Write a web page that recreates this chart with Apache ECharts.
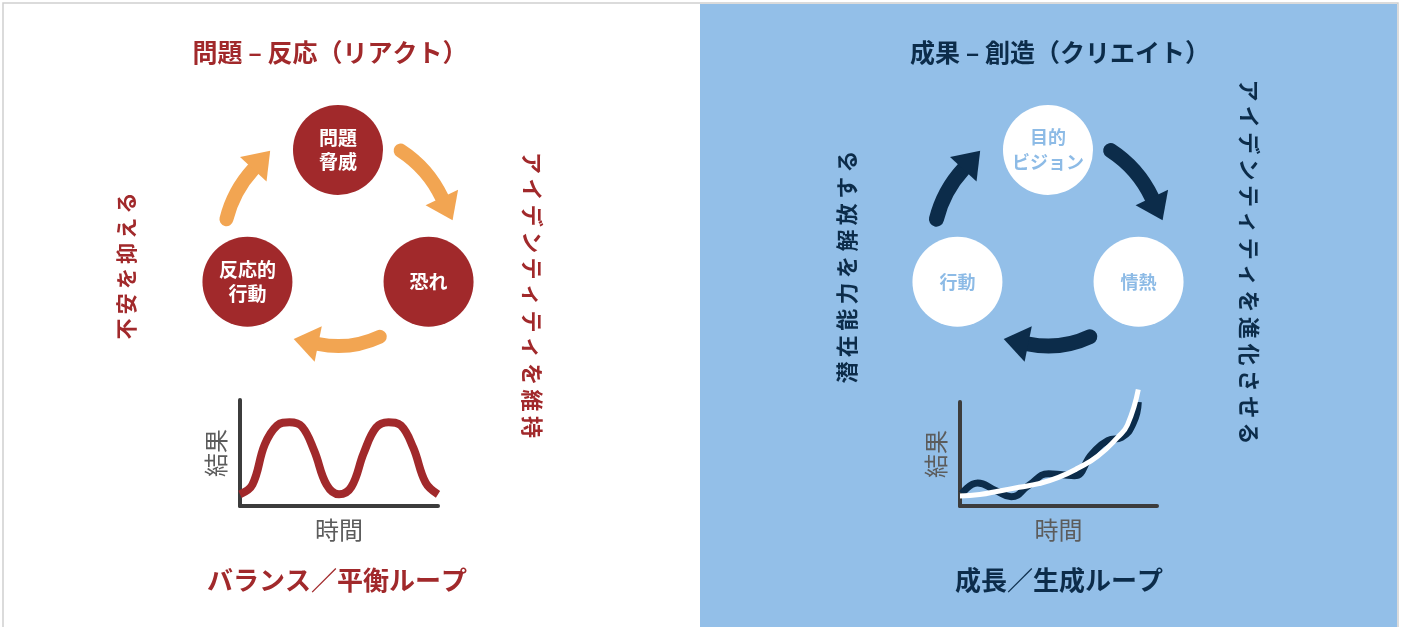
<!DOCTYPE html>
<html>
<head>
<meta charset="utf-8">
<title>リアクト / クリエイト</title>
<script src="https://cdn.jsdelivr.net/npm/echarts@6/dist/echarts.min.js"></script>
<style>
html, body { margin: 0; padding: 0; background: #fff; }
#main { width: 1403px; height: 627px; }
</style>
</head>
<body>
<div id="main"></div>
<script>
/* データ */
var reactNodes = ['問題\n脅威', '恐れ', '反応的\n行動'];
var createNodes = ['目的\nビジョン', '情熱', '行動'];
var nodeAngles = [90, -21, 201];          // 円周上の角度（度）
var arrowFrom = [57, -65, 166];           // 矢印の始点角度
var arrowTo = [13, -116, 125];            // 矢印の先端角度

// バランス／平衡ループ（結果 × 時間）
var balanceX = [0, 0.25, 0.5, 0.75, 1, 1.25, 1.5, 1.75, 2, 2.25, 2.5, 2.75, 3, 3.25, 3.5, 3.75, 4];
var balanceY = [0.11, 0.2, 0.58, 0.76, 0.79, 0.75, 0.52, 0.2, 0.11, 0.18, 0.5, 0.74, 0.79, 0.76, 0.55, 0.22, 0.11];

// 成長／生成ループ：トレンド（白）と実際（紺）
var trendX = [0, 1, 2, 3, 4, 5, 6, 7, 8, 8.5, 9.05];
var trendY = [0.096, 0.11, 0.145, 0.18, 0.215, 0.275, 0.365, 0.48, 0.66, 0.78, 1.12];
var waveX = [0.1, 0.9, 1.8, 2.6, 3.5, 4.5, 5.2, 5.8, 6.7, 7.5, 8.2, 8.8, 9.05];
var waveY = [0.12, 0.22, 0.15, 0.09, 0.2, 0.31, 0.3, 0.29, 0.5, 0.63, 0.66, 0.8, 1.0];

var RED = '#a1292b', ORANGE = '#f2a552', NAVY = '#0c2c4a', BLUE = '#93bfe8',
    AXIS = '#3c3c3c', GREY = '#5c5c5c';
var FONT = '"Noto Sans CJK JP", "Noto Sans CJK SC", sans-serif';
var NODE_R = 97;
var arrowRadius = [115, 99, 115];

var myChart = echarts.init(document.getElementById('main'));

function spaced(s) {
	return s.split('').join('\u2009');
}

function nodeData(names) {
	return names.map(function (n, i) {
		var a = nodeAngles[i] * Math.PI / 180;
		return { name: n, value: [NODE_R * Math.cos(a), NODE_R * Math.sin(a)] };
	});
}

function arrowData() {
	return arrowFrom.map(function (a, i) {
		return [a, arrowTo[i], arrowRadius[i]];
	});
}

/* 円弧の矢印（時計回り） */
function arrowItem(color, width) {
	return function (params, api) {
		var d = Math.PI / 180;
		var a0 = api.value(0), a1 = api.value(1), r = api.value(2);
		var c = api.coord([0, 0]);
		var rp = api.size([r, 0])[0];
		var head = 25, hw = 18;
		var baseA = a1 + head / rp / d;
		var t = baseA * d;
		var bx = c[0] + rp * Math.cos(t), by = c[1] - rp * Math.sin(t);
		var tx = Math.sin(t), ty = Math.cos(t);
		var nx = Math.cos(t), ny = -Math.sin(t);
		return {
			type: 'group',
			children: [{
				type: 'arc',
				shape: { cx: c[0], cy: c[1], r: rp, startAngle: -a0 * d, endAngle: -baseA * d, clockwise: true },
				style: { fill: null, stroke: color, lineWidth: width, lineCap: 'round' }
			}, {
				type: 'polygon',
				shape: { points: [[bx + nx * hw, by + ny * hw], [bx - nx * hw, by - ny * hw], [bx + tx * head, by + ty * head]] },
				style: { fill: color }
			}]
		};
	};
}

function pairs(xs, ys) {
	return xs.map(function (x, i) { return [x, ys[i]]; });
}

function hiddenAxis(idx, min, max) {
	return { gridIndex: idx, type: 'value', min: min, max: max, show: false };
}

function chartAxis(idx, min, max, name, isY) {
	return {
		gridIndex: idx, type: 'value', min: min, max: max,
		name: name, nameLocation: 'middle', nameGap: isY ? 12 : 12,
		nameRotate: isY ? 90 : 0,
		nameTextStyle: { color: GREY, fontSize: 24, fontFamily: FONT },
		axisLine: { show: true, lineStyle: { color: AXIS, width: 4 } },
		axisTick: { show: false }, axisLabel: { show: false }, splitLine: { show: false }
	};
}

function text(str, x, y, color, size, rot) {
	return {
		type: 'text', x: x, y: y, rotation: rot || 0, z: 10,
		style: {
			text: str, fill: color, align: 'center', verticalAlign: 'middle',
			font: 'bold ' + size + 'px ' + FONT
		}
	};
}

var option = {
	backgroundColor: '#fff',
	animation: false,
	graphic: [
		{ type: 'rect', shape: { x: 3, y: 3, width: 1395, height: 630 }, style: { fill: '#fff', stroke: '#cfcfcf', lineWidth: 1.5 }, z: -10 },
		{ type: 'rect', shape: { x: 700, y: 4, width: 697, height: 625 }, style: { fill: BLUE }, z: -9 },
		text('問題 – 反応（リアクト）', 330, 52, RED, 25),
		text('成果 – 創造（クリエイト）', 1060, 52, NAVY, 25),
		text('バランス／平衡ループ', 337, 580, RED, 26),
		text('成長／生成ループ', 1059, 580, NAVY, 26),
		text(spaced('不安を抑える'), 126, 266, RED, 21, Math.PI / 2),
		text(spaced('アイデンティティを維持'), 532, 295, RED, 22, -Math.PI / 2),
		text(spaced('潜在能力を解放する'), 847, 267, NAVY, 22, Math.PI / 2),
		text(spaced('アイデンティティを進化させる'), 1249, 262, NAVY, 22, -Math.PI / 2)
	],
	grid: [
		{ left: 178, top: 87, width: 320, height: 320 },
		{ left: 888, top: 87, width: 320, height: 320 },
		{ left: 240, top: 400, width: 198, height: 106 },
		{ left: 960, top: 402, width: 197, height: 104 }
	],
	xAxis: [
		hiddenAxis(0, -160, 160),
		hiddenAxis(1, -160, 160),
		chartAxis(2, 0, 4, '時間', false),
		chartAxis(3, 0, 10, '時間', false)
	],
	yAxis: [
		hiddenAxis(0, -160, 160),
		hiddenAxis(1, -160, 160),
		chartAxis(2, 0, 1, '結果', true),
		chartAxis(3, 0, 1, '結果', true)
	],
	series: [{
		type: 'custom', xAxisIndex: 0, yAxisIndex: 0,
		renderItem: arrowItem(ORANGE, 14), data: arrowData(), silent: true
	}, {
		type: 'scatter', xAxisIndex: 0, yAxisIndex: 0,
		symbolSize: 90, itemStyle: { color: RED, opacity: 1 },
		label: { show: true, position: 'inside', formatter: '{b}', color: '#fff', fontSize: 19, fontWeight: 'bold', lineHeight: 24, fontFamily: FONT },
		data: nodeData(reactNodes)
	}, {
		type: 'custom', xAxisIndex: 1, yAxisIndex: 1,
		renderItem: arrowItem(NAVY, 15), data: arrowData(), silent: true
	}, {
		type: 'scatter', xAxisIndex: 1, yAxisIndex: 1,
		symbolSize: 90, itemStyle: { color: '#fff', opacity: 1 },
		label: { show: true, position: 'inside', formatter: '{b}', color: '#8dbbe6', fontSize: 18, fontWeight: 'bold', lineHeight: 25, fontFamily: FONT },
		data: nodeData(createNodes)
	}, {
		type: 'line', xAxisIndex: 2, yAxisIndex: 2, smooth: 0.4, symbol: 'none', clip: false,
		lineStyle: { color: RED, width: 8 },
		data: pairs(balanceX, balanceY)
	}, {
		type: 'line', xAxisIndex: 3, yAxisIndex: 3, smooth: true, symbol: 'none', clip: false,
		lineStyle: { color: NAVY, width: 7 },
		data: pairs(waveX, waveY)
	}, {
		type: 'line', xAxisIndex: 3, yAxisIndex: 3, smooth: true, symbol: 'none', clip: false,
		lineStyle: { color: '#fff', width: 5 },
		data: pairs(trendX, trendY)
	}]
};

myChart.setOption(option);
</script>
</body>
</html>
